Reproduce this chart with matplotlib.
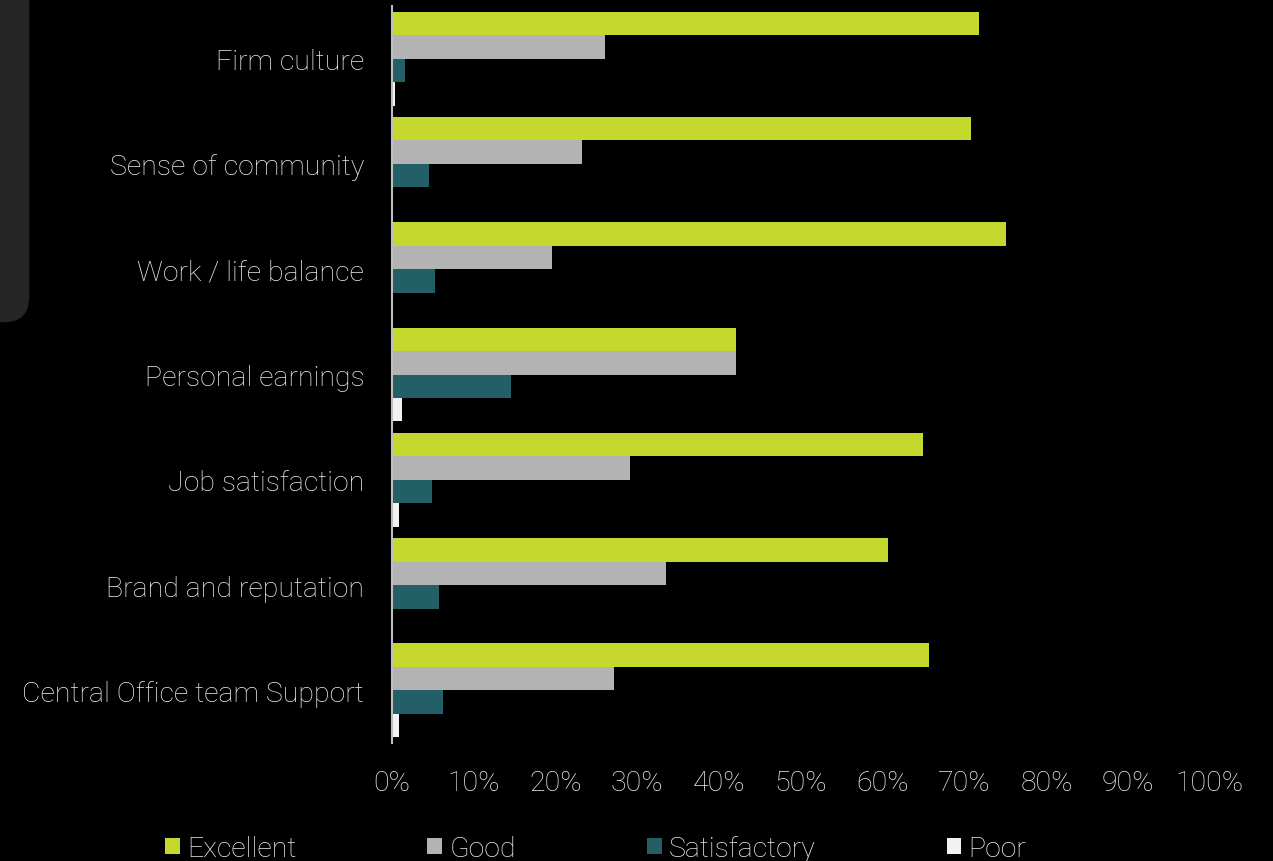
import numpy as np
import matplotlib.pyplot as plt
from matplotlib.patches import FancyBboxPatch

categories = ["Firm culture", "Sense of community", "Work / life balance",
              "Personal earnings", "Job satisfaction", "Brand and reputation",
              "Central Office team Support"]
excellent = [71.7, 70.8, 75.0, 42.0, 64.9, 60.6, 65.6]
good = [26.0, 23.2, 19.5, 42.0, 29.1, 33.5, 27.2]
satisfactory = [1.6, 4.5, 5.3, 14.5, 4.9, 5.7, 6.2]
poor = [0.4, 0.0, 0.0, 1.2, 0.8, 0.0, 0.8]
series = ["Excellent", "Good", "Satisfactory", "Poor"]
colors = ["#c5d82e", "#b3b3b3", "#235f66", "#f2f2f2"]
ticks = list(range(0, 101, 10))

plt.rcParams['font.family'] = ['Roboto', 'DejaVu Sans']
fig = plt.figure(figsize=(12.73, 8.62), dpi=100, facecolor="black")

# dark side tab in the corner
tab = FancyBboxPatch((-0.02, 0.625), 0.043, 0.4, boxstyle="round,pad=0,rounding_size=0.02",
                     transform=fig.transFigure, facecolor="#262626", edgecolor="none",
                     mutation_aspect=1273 / 862)
fig.patches.append(tab)

ax = fig.add_axes([392 / 1273, 1 - 744 / 862, 818 / 1273, 737 / 862])
ax.set_facecolor("black")

y = np.arange(len(categories))
h = 0.223
data = [excellent, good, satisfactory, poor]
for i, (name, vals, c) in enumerate(zip(series, data, colors)):
    ax.barh(y + (i - 1.5) * h, vals, height=h, color=c, label=name)

fs = 20.5
ax.set_ylim(len(categories) - 0.5, -0.5)
ax.set_xlim(0, 100)
ax.set_yticks(y)
ax.set_yticklabels(categories, fontsize=fs, color="#ececec", fontweight="light")
ax.set_xticks(ticks)
ax.set_xticklabels([f"{t}%" for t in ticks], fontsize=fs, color="#ececec", fontweight="light")
ax.tick_params(axis="y", length=0, pad=20)
ax.tick_params(axis="x", length=0, pad=19)
for s in ["top", "right", "bottom"]:
    ax.spines[s].set_visible(False)
ax.spines["left"].set_color("#bfbfbf")
ax.spines["left"].set_linewidth(1.5)

leg = fig.legend(loc="lower center", bbox_to_anchor=(0.468, -0.031), ncol=4, frameon=False,
                 fontsize=fs, handlelength=0.52, handleheight=0.52, handletextpad=0.25,
                 columnspacing=4.6)
for t in leg.get_texts():
    t.set_color("#ececec")
    t.set_fontweight("light")

fig.savefig("out.png", dpi=100, facecolor="black")
